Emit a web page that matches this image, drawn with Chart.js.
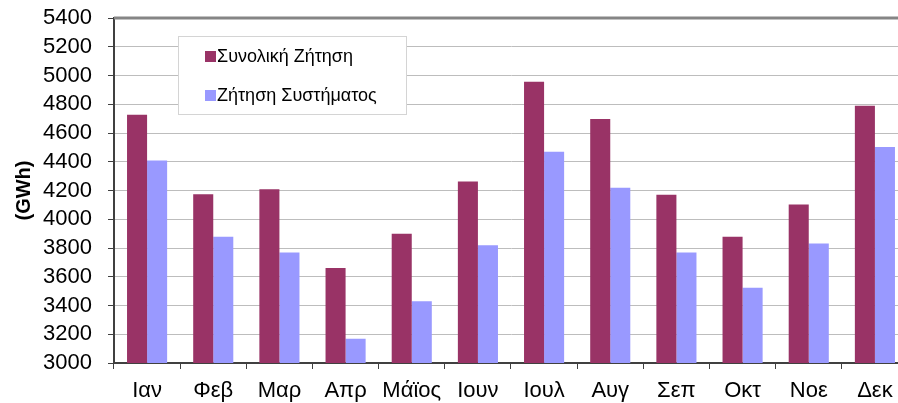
<!DOCTYPE html>
<html>
<head>
<meta charset="utf-8">
<script src="https://cdn.jsdelivr.net/npm/chart.js@4.4.0/dist/chart.umd.min.js"></script>
<style>
  html, body { margin: 0; padding: 0; background: #fff; overflow: hidden; }
  #wrap { width: 910px; height: 403px; }
</style>
</head>
<body>
<div id="wrap"><canvas id="chartZitisi" width="910" height="403"></canvas></div>
<script>
// μήνες
var mines = ['Ιαν', 'Φεβ', 'Μαρ', 'Απρ', 'Μάϊος', 'Ιουν', 'Ιουλ', 'Αυγ', 'Σεπ', 'Οκτ', 'Νοε', 'Δεκ'];
// GWh
var synolikiZitisi = [4727, 4174, 4209, 3661, 3900, 4262, 4957, 4698, 4171, 3879, 4102, 4790];
var zitisiSystimatos = [4408, 3879, 3768, 3169, 3429, 3820, 4470, 4220, 3768, 3524, 3831, 4502];
var yTicks = { min: 3000, max: 5400, step: 200 };

var colorSynoliki = '#993366';
var colorSystima = '#9999ff';

// plaisio panw kai ypomnima mesa sto grafima
var plaisioPlugin = {
	id: 'plaisio',
	afterDraw: function(chart){
		var ctx = chart.ctx;
		var a = chart.chartArea;
		ctx.save();
		ctx.strokeStyle = '#858585';
		ctx.lineWidth = 3;
		ctx.beginPath();
		ctx.moveTo(a.left, a.top);
		ctx.lineTo(a.right, a.top);
		ctx.stroke();

		// ypomnima
		var bx = a.left + 64, by = a.top + 18, bw = 228, bh = 78;
		ctx.fillStyle = '#ffffff';
		ctx.fillRect(bx, by, bw, bh);
		ctx.strokeStyle = '#d4d4d4';
		ctx.lineWidth = 1;
		ctx.strokeRect(bx + 0.5, by + 0.5, bw, bh);
		ctx.font = '18px "Liberation Sans", Arial, sans-serif';
		ctx.textBaseline = 'middle';
		chart.data.datasets.forEach(function(ds, i){
			var cy = by + 21 + i * 39;
			ctx.fillStyle = ds.backgroundColor;
			ctx.fillRect(bx + 27, cy - 6, 11, 11);
			ctx.fillStyle = '#000000';
			ctx.fillText(ds.label, bx + 39, cy);
		});
		ctx.restore();
	}
};

var ctx = document.getElementById('chartZitisi').getContext('2d');
window.myBar = new Chart(ctx, {
	type: 'bar',
	data: {
		labels: mines,
		datasets: [
			{ label: 'Συνολική Ζήτηση', data: synolikiZitisi, backgroundColor: colorSynoliki, borderWidth: 0 },
			{ label: 'Ζήτηση Συστήματος', data: zitisiSystimatos, backgroundColor: colorSystima, borderWidth: 0 }
		]
	},
	plugins: [plaisioPlugin],
	options: {
		responsive: false,
		animation: false,
		devicePixelRatio: 1,
		layout: { padding: { top: 18, right: 2, bottom: 0, left: 0 } },
		categoryPercentage: 0.606,
		barPercentage: 1,
		plugins: {
			legend: { display: false },
			tooltip: { enabled: false }
		},
		scales: {
			x: {
				grid: {
					offset: true,
					drawOnChartArea: false,
					tickLength: 6,
					tickColor: '#404040',
					tickWidth: 1
				},
				border: { color: '#404040', width: 2 },
				ticks: {
					color: '#000',
					padding: 9,
					autoSkip: false,
					maxRotation: 0,
					font: { family: '"Liberation Sans", Arial, sans-serif', size: 22 }
				},
				afterFit: function(scale){
					scale.height = 40;
					scale.paddingLeft = 0;
					scale.paddingRight = 0;
				}
			},
			y: {
				min: yTicks.min,
				max: yTicks.max,
				grid: {
					color: '#bdbdbd',
					borderDash: [2, 1],
					lineWidth: 1,
					tickLength: 6,
					tickColor: '#404040',
					tickBorderDash: [],
					tickWidth: 1
				},
				border: { color: '#404040', width: 2 },
				ticks: {
					stepSize: yTicks.step,
					autoSkip: false,
					color: '#000',
					padding: 16,
					font: { family: '"Liberation Sans", Arial, sans-serif', size: 22, lineHeight: 1 },
					callback: function(v){ return String(v); }
				},
				title: {
					display: true,
					text: '(GWh)',
					color: '#000',
					padding: { top: 12, bottom: 0 },
					font: { family: '"Liberation Sans", Arial, sans-serif', size: 20, weight: 'bold' }
				},
				afterFit: function(scale){
					scale.width = 114;
					scale.paddingTop = 0;
					scale.paddingBottom = 0;
				}
			}
		}
	}
});
</script>
</body>
</html>
